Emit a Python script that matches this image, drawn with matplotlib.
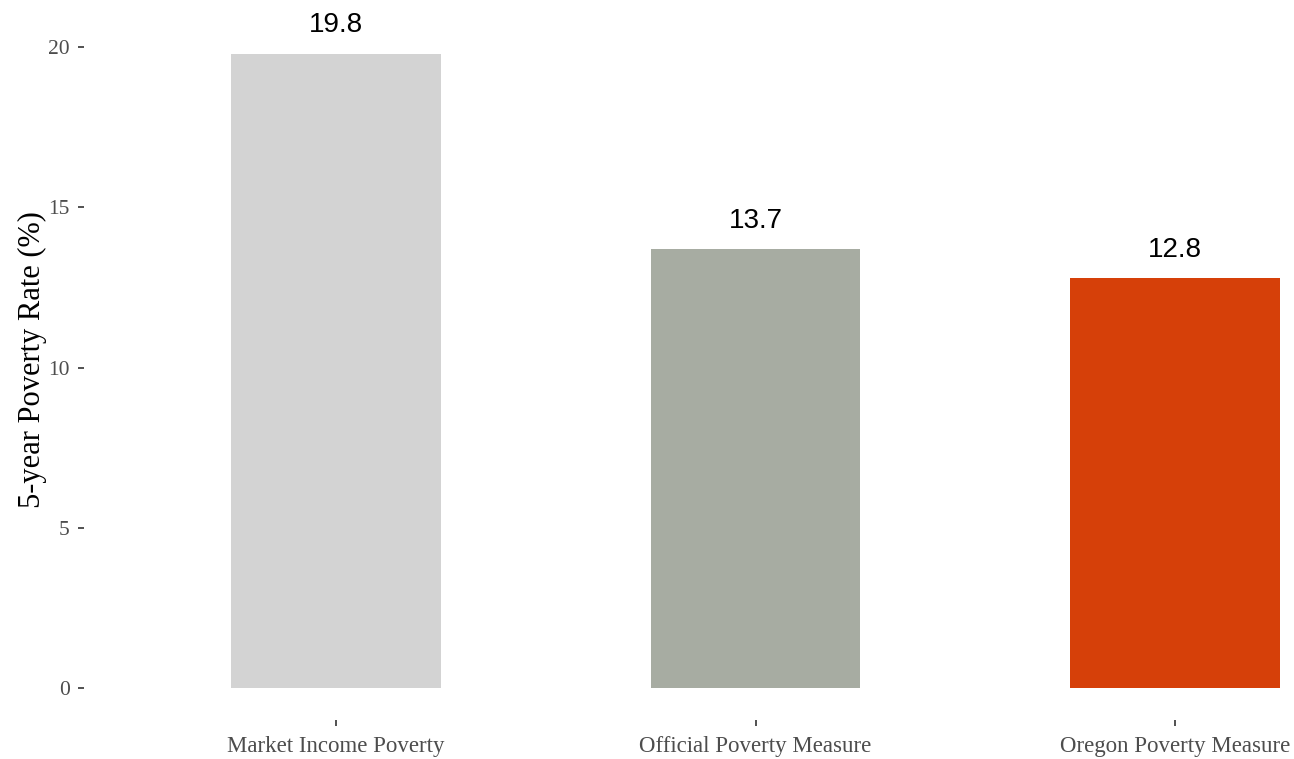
import matplotlib
matplotlib.use("Agg")
import matplotlib.pyplot as plt

# data
categories = ["Market Income Poverty", "Official Poverty Measure", "Oregon Poverty Measure"]
rates = [19.8, 13.7, 12.8]
bar_colors = ["#D3D3D3", "#A7ACA2", "#D64009"]
y_ticks = [0, 5, 10, 15, 20]

fig = plt.figure(figsize=(12.94, 7.59), dpi=100)
ax = fig.add_axes([0.065, 0.0514, 0.935, 0.9486])

xpos = list(range(1, len(categories) + 1))
bars = ax.bar(xpos, rates, width=0.5, color=bar_colors)

for x, v in zip(xpos, rates):
    ax.annotate(f"{v:.1f}", (x, v), xytext=(0, 11), textcoords="offset points",
                ha="center", va="bottom", fontsize=20,
                family="Liberation Sans", color="black", annotation_clip=False)

ax.set_xlim(0.4, 3.283)
ax.set_ylim(-1.0, 21.47)
ax.set_xticks(xpos)
ax.set_xticklabels(categories, family="Liberation Serif", fontsize=16.5, color="#4D4D4D")
ax.set_yticks(y_ticks)
ax.set_yticklabels([str(t) for t in y_ticks], family="Liberation Serif", fontsize=15.5, color="#4D4D4D")
ax.tick_params(axis="y", length=4.5, width=1.2, color="#333333", pad=6)
ax.tick_params(axis="x", length=4.5, width=1.2, color="#333333", pad=7)
ax.set_ylabel("5-year Poverty Rate (%)", family="Liberation Serif", fontsize=22, labelpad=1)

for s in ax.spines.values():
    s.set_visible(False)

fig.savefig("out.png", dpi=100)
